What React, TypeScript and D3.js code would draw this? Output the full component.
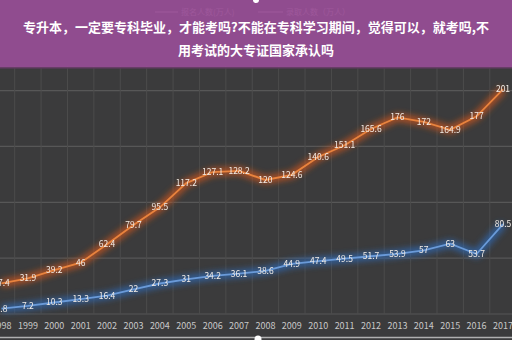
import React from "react";
import * as d3 from "d3";

const years = ["1998","1999","2000","2001","2002","2003","2004","2005","2006","2007","2008","2009","2010","2011","2012","2013","2014","2015","2016","2017"];
const applicants = [27.4,31.9,39.2,46,62.4,79.7,95.5,117.2,127.1,128.2,120,124.6,140.6,151.1,165.6,176,172,164.9,177,201];
const admitted = [4.8,7.2,10.3,13.3,16.4,22,27.3,31,34.2,36.1,38.6,44.9,47.4,49.5,51.7,53.9,57,63,53.7,80.5];
const gridValues = [0, 50, 100, 150, 200];
const legendLabels = ["报名人数(万人)", "录取人数（万人）"];
const titleLines = ["专升本，一定要专科毕业，才能考吗?不能在专科学习期间，觉得可以，就考吗,不", "用考试的大专证国家承认吗"];

const W = 512, H = 340;

export default function App() {
  const x = d3.scalePoint<string>().domain(years).range([1.5, 503]);
  const step = x.step();
  const y = d3.scaleLinear().domain([0, 200]).range([314, 90.6]);
  const line = d3.line<number>().x((_, i) => x(years[i]) as number).y(d => y(d));
  const series = [
    { values: applicants, color: "#e8833e", glow: "#d0561a" },
    { values: admitted, color: "#6a9ad8", glow: "#2f6bb8" },
  ];
  const font = "'Noto Sans CJK SC', 'Noto Sans', sans-serif";
  return (
    <svg width={W} height={H} style={{ position: "absolute", left: 0, top: 0, display: "block" }}>
      <defs>
        <filter id="glow" x="-10%" y="-20%" width="120%" height="140%">
          <feGaussianBlur stdDeviation="3" />
        </filter>
        <filter id="soft" x="-10%" y="-30%" width="120%" height="160%">
          <feGaussianBlur stdDeviation="0.4" />
        </filter>
      </defs>
      <rect x={0} y={0} width={W} height={H} fill="#3b3b3c" />
      {gridValues.map(v => (
        <line key={v} x1={0} x2={W} y1={y(v)} y2={y(v)} stroke="#575757" strokeWidth={1.2} />
      ))}
      {years.map((yr, i) => (
        <line key={yr} x1={(x(yr) as number) + step / 2} x2={(x(yr) as number) + step / 2} y1={66} y2={314} stroke="#4c4c4c" strokeWidth={1} />
      ))}
      {series.map((s, k) => (
        <g key={k}>
          <path d={line(s.values) || ""} fill="none" stroke={s.glow} strokeWidth={8} opacity={0.75} filter="url(#glow)" />
          <path d={line(s.values) || ""} fill="none" stroke={s.color} strokeWidth={1.8} />
          {s.values.map((v, i) => (
            <text key={i} x={x(years[i]) as number} y={y(v)} dy="0.35em" textAnchor="middle" fontSize={8.5}
              fontFamily={font} fill="#f2ece6" filter="url(#soft)">{v}</text>
          ))}
        </g>
      ))}
      {years.map(yr => (
        <text key={yr} x={x(yr) as number} y={326} dy="0.35em" textAnchor="middle" fontSize={9} fontFamily={font} fill="#c8c8c8">{yr}</text>
      ))}
      <line x1={0} x2={W} y1={337.5} y2={337.5} stroke="#b0b0b0" strokeWidth={1.5} />
      <circle cx={258} cy={339} r={3.5} fill="#ffffff" />
      <g fontFamily={font} fontSize={8} fill="#b8a0b8">
        <line x1={155} x2={178} y1={12} y2={12} stroke="#b8a0b8" />
        <text x={181} y={12} dy="0.35em">{legendLabels[0]}</text>
        <line x1={258} x2={283} y1={12} y2={12} stroke="#b8a0b8" />
        <text x={286} y={12} dy="0.35em">{legendLabels[1]}</text>
      </g>
      <rect x={0} y={0} width={W} height={68} fill="#9a4f98" opacity={0.9} />
      <line x1={0} x2={W} y1={68} y2={68} stroke="#5a3a58" strokeWidth={1.5} />
      <circle cx={256} cy={0} r={3} fill="#ffffff" />
      {titleLines.map((t, i) => (
        <text key={i} x={W / 2} y={27 + i * 23} dy="0.35em" textAnchor="middle" fontSize={13} fontWeight="bold"
          fontFamily={font} fill="#ffffff">{t}</text>
      ))}
    </svg>
  );
}
